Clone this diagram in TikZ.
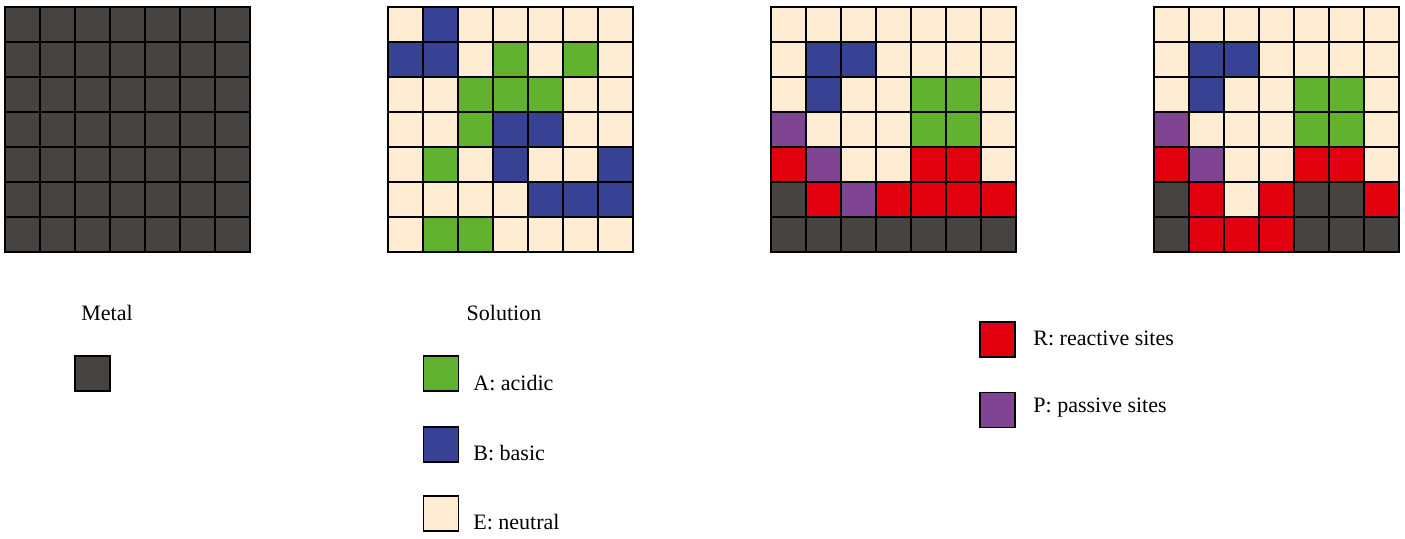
\documentclass[tikz,border=0pt]{standalone}
\usepackage{fontspec}
\setmainfont{Liberation Serif}
\definecolor{cM}{HTML}{474341}
\definecolor{cE}{HTML}{FFEDD3}
\definecolor{cB}{HTML}{374294}
\definecolor{cA}{HTML}{61B22E}
\definecolor{cR}{HTML}{E2000F}
\definecolor{cP}{HTML}{804592}
\newcommand{\mygrid}[2]{%
  \foreach \row [count=\j] in {#2} {
    \foreach \c [count=\i] in \row {
      \filldraw[fill=c\c, draw=black, line width=0.8pt] ({#1+(\i-1)*35},{7+(\j-1)*35}) rectangle ++(35,35);
    }
  }
}
\begin{document}
\begin{tikzpicture}[x=0.5pt,y=-0.5pt,
  lab/.style={font=\fontsize{11}{13}\selectfont, inner sep=0pt},
  sq/.style={draw=black, line width=0.8pt, minimum size=17.5pt, inner sep=0pt}]
\useasboundingbox (0,0) rectangle (1405,539);
\mygrid{5}{{M,M,M,M,M,M,M},{M,M,M,M,M,M,M},{M,M,M,M,M,M,M},{M,M,M,M,M,M,M},{M,M,M,M,M,M,M},{M,M,M,M,M,M,M},{M,M,M,M,M,M,M}}
\mygrid{388}{{E,B,E,E,E,E,E},{B,B,E,A,E,A,E},{E,E,A,A,A,E,E},{E,E,A,B,B,E,E},{E,A,E,B,E,E,B},{E,E,E,E,B,B,B},{E,A,A,E,E,E,E}}
\mygrid{771}{{E,E,E,E,E,E,E},{E,B,B,E,E,E,E},{E,B,E,E,A,A,E},{P,E,E,E,A,A,E},{R,P,E,E,R,R,E},{M,R,P,R,R,R,R},{M,M,M,M,M,M,M}}
\mygrid{1154}{{E,E,E,E,E,E,E},{E,B,B,E,E,E,E},{E,B,E,E,A,A,E},{P,E,E,E,A,A,E},{R,P,E,E,R,R,E},{M,R,E,R,M,M,R},{M,R,R,R,M,M,M}}
\node[lab] (tmetal) at (107,313) {Metal};
\node[sq, fill=cM] (smetal) at (92.5,373.5) {};
\node[lab] (tsol) at (504,313) {Solution};
\node[sq, fill=cA] (sA) at (441,373.5) {};
\node[lab, anchor=west] (tA) at (473,383) {A: acidic};
\node[sq, fill=cB] (sB) at (441,444.5) {};
\node[lab, anchor=west] (tB) at (473,453) {B: basic};
\node[sq, fill=cE] (sE) at (441,513.5) {};
\node[lab, anchor=west] (tE) at (473,522) {E: neutral};
\node[sq, fill=cR] (sR) at (997.5,339.5) {};
\node[lab, anchor=west] (tR) at (1033,338) {R: reactive sites};
\node[sq, fill=cP] (sP) at (997.5,410) {};
\node[lab, anchor=west] (tP) at (1033,408) {P: passive sites};
\end{tikzpicture}
\end{document}
